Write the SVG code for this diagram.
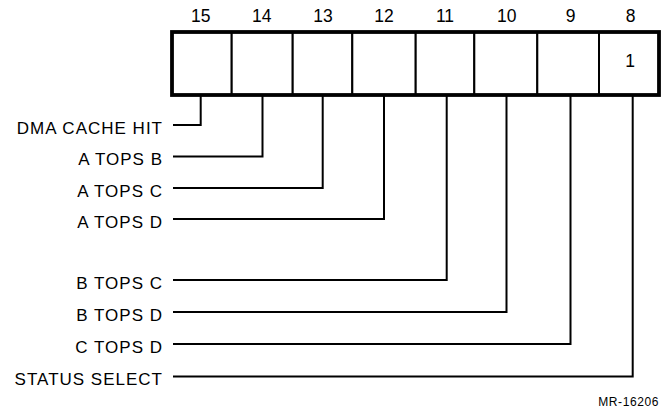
<svg xmlns="http://www.w3.org/2000/svg" width="662" height="410" viewBox="0 0 662 410">
<style>
.bitnum{font-family:"Liberation Sans",Arial,sans-serif;font-size:17.5px;fill:#000;text-anchor:middle}
.lbl{font-family:"Liberation Sans",Arial,sans-serif;font-size:17px;fill:#000;text-anchor:end;letter-spacing:1px}
.cell{fill:#fff;stroke:#000;stroke-width:2}
.wire{fill:none;stroke:#000;stroke-width:2;stroke-linejoin:miter}
.outer{fill:none;stroke:#000;stroke-width:3.8}
.ref{font-family:"Liberation Sans",Arial,sans-serif;font-size:12px;fill:#000;text-anchor:end;letter-spacing:0.6px}
</style>
<rect width="662" height="410" fill="#fff"/>
<g id="register">
  <g id="bit15"><rect class="cell" x="172" y="32" width="59.7" height="63"/><text class="bitnum" x="200.7" y="22">15</text></g>
  <g id="bit14"><rect class="cell" x="231.7" y="32" width="61" height="63"/><text class="bitnum" x="261.7" y="22">14</text></g>
  <g id="bit13"><rect class="cell" x="292.7" y="32" width="59.6" height="63"/><text class="bitnum" x="323" y="22">13</text></g>
  <g id="bit12"><rect class="cell" x="352.3" y="32" width="63.4" height="63"/><text class="bitnum" x="384" y="22">12</text></g>
  <g id="bit11"><rect class="cell" x="415.7" y="32" width="58.6" height="63"/><text class="bitnum" x="445" y="22">11</text></g>
  <g id="bit10"><rect class="cell" x="474.3" y="32" width="63" height="63"/><text class="bitnum" x="506.7" y="22">10</text></g>
  <g id="bit9"><rect class="cell" x="537.3" y="32" width="61.7" height="63"/><text class="bitnum" x="570.5" y="22">9</text></g>
  <g id="bit8"><rect class="cell" x="599" y="32" width="60" height="63"/><text class="bitnum" x="630.5" y="22">8</text><text class="bitnum" x="630" y="67">1</text></g>
  <rect class="outer" x="172" y="32" width="487" height="63"/>
</g>
<g id="connectors">
  <polyline class="wire" points="173,125 200.7,125 200.7,95"/>
  <polyline class="wire" points="173,156.5 262.5,156.5 262.5,95"/>
  <polyline class="wire" points="173,188 322.7,188 322.7,95"/>
  <polyline class="wire" points="173,219 384,219 384,95"/>
  <polyline class="wire" points="173,280 446.7,280 446.7,95"/>
  <polyline class="wire" points="173,312 506.5,312 506.5,95"/>
  <polyline class="wire" points="173,344 570.5,344 570.5,95"/>
  <polyline class="wire" points="173,376.5 632.7,376.5 632.7,95"/>
</g>
<g id="labels">
  <g id="lbl-dma"><text class="lbl" x="163" y="133.5">DMA CACHE HIT</text></g>
  <g id="lbl-atopsb"><text class="lbl" x="163" y="165">A TOPS B</text></g>
  <g id="lbl-atopsc"><text class="lbl" x="163" y="196.5">A TOPS C</text></g>
  <g id="lbl-atopsd"><text class="lbl" x="163" y="227.5">A TOPS D</text></g>
  <g id="lbl-btopsc"><text class="lbl" x="163" y="288.5">B TOPS C</text></g>
  <g id="lbl-btopsd"><text class="lbl" x="163" y="320.5">B TOPS D</text></g>
  <g id="lbl-ctopsd"><text class="lbl" x="163" y="352.5">C TOPS D</text></g>
  <g id="lbl-status"><text class="lbl" x="163" y="385">STATUS SELECT</text></g>
</g>
<text class="ref" x="659" y="406">MR-16206</text>
</svg>
